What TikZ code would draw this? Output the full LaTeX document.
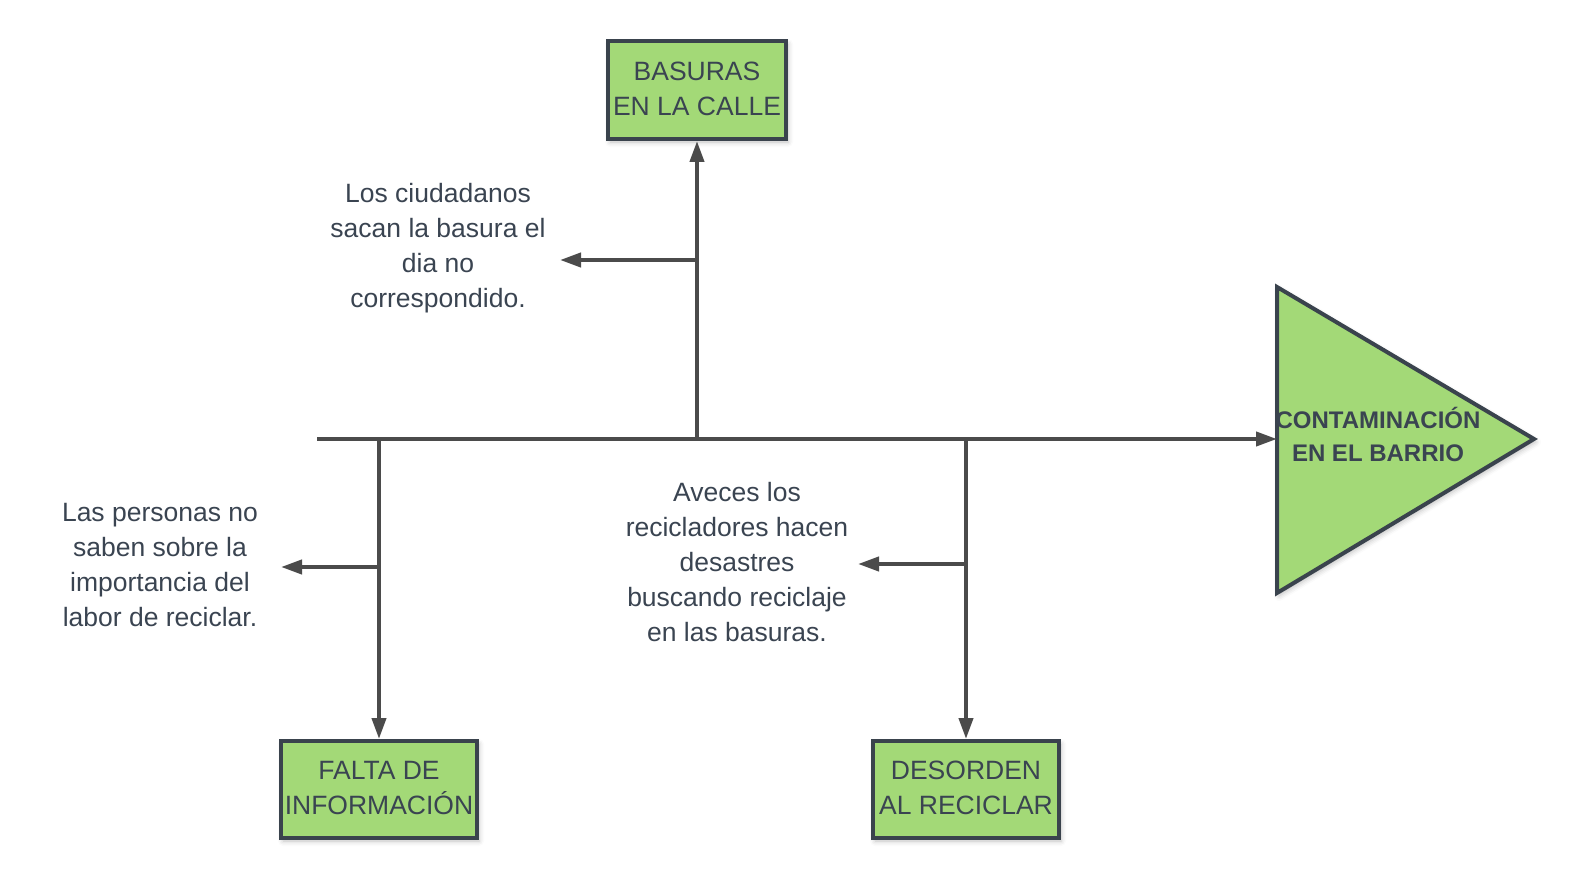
\documentclass[tikz,border=0pt]{standalone}
\usepackage{fontspec}
\setmainfont{Liberation Sans}
\usetikzlibrary{arrows.meta,shadows.blur}
\definecolor{boxgreen}{HTML}{A3D977}
\definecolor{boxline}{HTML}{3A434D}
\definecolor{txtcol}{HTML}{3A4451}
\definecolor{linecol}{HTML}{4B4B4B}
\tikzset{
	causebox/.style={draw=boxline, line width=4pt, fill=boxgreen, align=center, text=txtcol,
		font=\fontsize{26.5}{35}\selectfont, inner sep=0pt, text depth=3pt,
		blur shadow={shadow xshift=2pt, shadow yshift=-3pt, shadow blur radius=5pt, shadow opacity=25}},
	notetext/.style={align=center, text=txtcol, font=\fontsize{26.5}{35}\selectfont},
	arr/.style={draw=linecol, line width=4pt, -{Triangle[length=21pt,width=14pt]}},
	bone/.style={draw=linecol, line width=4pt}
}
\begin{document}
\begin{tikzpicture}[x=1pt,y=-1pt]
	\useasboundingbox (0,0) rectangle (1575,880);
	% Effect triangle
	\coordinate (tri-l) at (1277,439);
	\coordinate (tri-t) at (1277,287);
	\coordinate (tri-b) at (1277,593);
	\coordinate (tri-r) at (1534,439);
	\draw[draw=boxline, line width=4pt, fill=boxgreen, line join=miter,
		blur shadow={shadow xshift=2pt, shadow yshift=-3pt, shadow blur radius=5pt, shadow opacity=25}]
		(tri-t) -- (tri-r) -- (tri-b) -- cycle;
	\node[align=center, text=txtcol, font=\bfseries\fontsize{24}{33}\selectfont] (effect) at (1378,434) {CONTAMINACIÓN\\EN EL BARRIO};
	% Cause boxes
	\node[causebox, minimum width=178pt, minimum height=98pt] (basuras) at (697,90) {BASURAS\\EN LA CALLE};
	\node[causebox, minimum width=196pt, minimum height=97pt] (falta) at (379,789.5) {FALTA DE\\INFORMACIÓN};
	\node[causebox, minimum width=186pt, minimum height=97pt] (desorden) at (966,789.5) {DESORDEN\\AL RECICLAR};
	% Notes
	\node[notetext] (note1) at (438,248) {Los ciudadanos\\sacan la basura el\\dia no\\correspondido.};
	\node[notetext] (note2) at (160,565) {Las personas no\\saben sobre la\\importancia del\\labor de reciclar.};
	\node[notetext] (note3) at (737,562) {Aveces los\\recicladores hacen\\desastres\\buscando reciclaje\\en las basuras.};
	% Spine and bones
	\coordinate (tail) at (317,439);
	\coordinate (j-top) at (697,439);
	\coordinate (j-left) at (379,439);
	\coordinate (j-right) at (966,439);
	\draw[arr] (tail) -- (tri-l);
	\draw[arr] (j-top) -- (basuras.south);
	\draw[arr] (j-left) -- (falta.north);
	\draw[arr] (j-right) -- (desorden.north);
	% Sub causes
	\coordinate (s1) at (697,260);
	\coordinate (e1) at (560,260);
	\coordinate (s2) at (379,567);
	\coordinate (e2) at (281,567);
	\coordinate (s3) at (966,564);
	\coordinate (e3) at (858,564);
	\draw[arr] (s1) -- (e1);
	\draw[arr] (s2) -- (e2);
	\draw[arr] (s3) -- (e3);
\end{tikzpicture}
\end{document}
